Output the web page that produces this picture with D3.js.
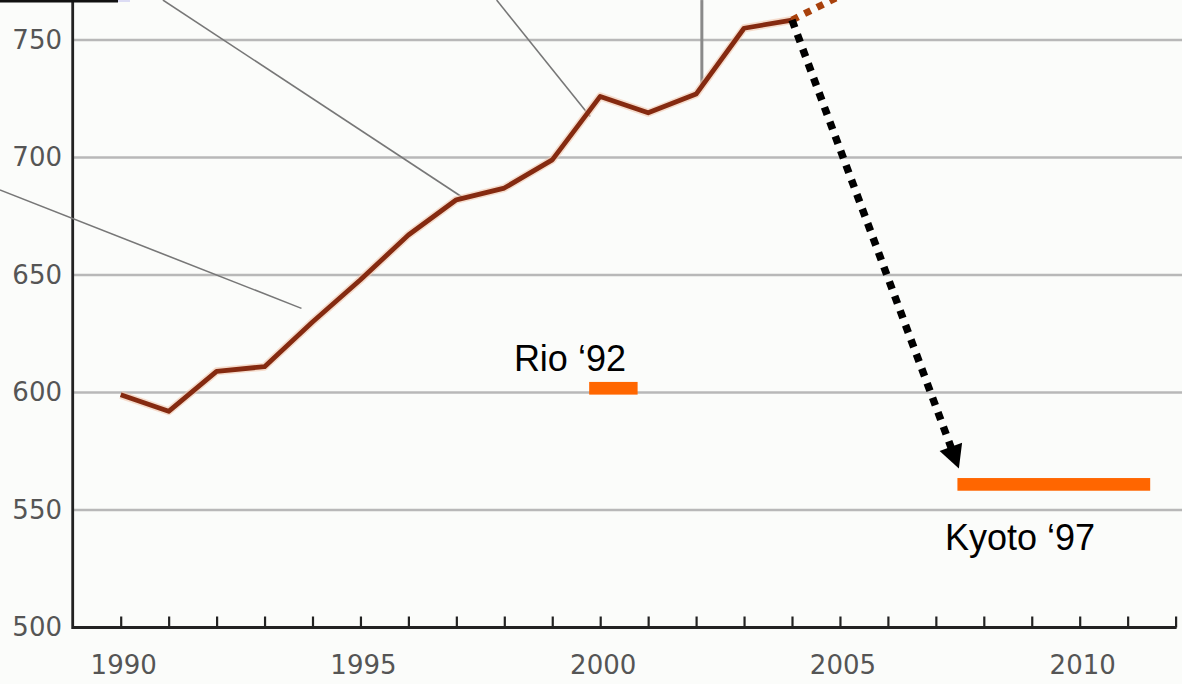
<!DOCTYPE html>
<html>
<head>
<meta charset="utf-8">
<script src="https://cdn.jsdelivr.net/npm/d3@7"></script>
<style>
  html, body { margin: 0; padding: 0; background: #fbfcfa; }
  svg { display: block; }
</style>
</head>
<body>
<div id="chart"></div>
<script>
// ---- data ----
const years = [1990,1991,1992,1993,1994,1995,1996,1997,1998,1999,2000,2001,2002,2003,2004];
const emissions = [599,592,609,611,630,648,667,682,687,699,726,719,727,755,758.5];
const yTicks = [500,550,600,650,700,750];
const xLabelYears = [1990,1995,2000,2005,2010];
const xTickYears = d3.range(1990, 2013);
const targetNames = ["Rio \u201892", "Kyoto \u201897"];
const targetStart = [1999.77, 2007.45];
const targetEnd = [2000.78, 2011.47];
const targetLow = [599.1, 558.2];
const targetHigh = [604.5, 563.6];
const targetLabelYear = [1998.2, 2007.19];
const targetLabelValue = [609.2, 532.8];
// trend projection (dotted) and required path (arrow)
const trendYears = [2004, 2006];
const trendValues = [758.5, 779];
const arrowYears = [2004, 2007.48];
const arrowValues = [758.5, 567.7];
// callout leader lines (pointing to labels outside the frame)
const calloutX1 = [1987.48, 1990.88, 1997.84, 2002.12];
const calloutY1 = [686.2, 767.0, 767.0, 767.0];
const calloutX2 = [1993.77, 1997.11, 1999.79, 2002.12];
const calloutY2 = [635.8, 683.3, 717.4, 730.9];

const W = 1182, H = 684;
const x = d3.scaleLinear().domain([1990, 2012]).range([120.7, 1175.6]);
const y = d3.scaleLinear().domain([500, 750]).range([627.5, 40]);
const axisX = 72.7;

const svg = d3.select("#chart").append("svg").attr("width", W).attr("height", H);
svg.append("rect").attr("width", W).attr("height", H).attr("fill", "#fbfcfa");

// gridlines
svg.append("g").selectAll("line").data(yTicks.filter(d => d > 500)).join("line")
  .attr("x1", axisX).attr("x2", W)
  .attr("y1", d => y(d)).attr("y2", d => y(d))
  .attr("stroke", "#b8b8b8").attr("stroke-width", 2.5);

// y axis labels
svg.append("g").selectAll("text").data(yTicks).join("text")
  .attr("x", 62).attr("y", d => y(d)).attr("dy", "0.33em")
  .attr("text-anchor", "end")
  .attr("font-family", "DejaVu Sans, sans-serif").attr("font-size", 26)
  .attr("fill", "#555")
  .text(d => d);

// x axis using d3 axis for ticks (upward)
const xAxis = d3.axisTop(x).tickValues(xTickYears).tickSize(11).tickFormat("");
const gx = svg.append("g").attr("transform", `translate(0,${y(500)})`).call(xAxis);
gx.select(".domain").remove();
gx.selectAll(".tick line").attr("stroke", "#222").attr("stroke-width", 2.2);

// axis lines
svg.append("line").attr("x1", axisX).attr("x2", x(2012) + 1)
  .attr("y1", y(500)).attr("y2", y(500)).attr("stroke", "#222").attr("stroke-width", 2.8);
svg.append("line").attr("x1", axisX).attr("x2", axisX)
  .attr("y1", 0).attr("y2", y(500) + 1.4).attr("stroke", "#222").attr("stroke-width", 2.8);

// x labels
svg.append("g").selectAll("text").data(xLabelYears).join("text")
  .attr("x", d => x(d) + 3).attr("y", y(500) + 46)
  .attr("text-anchor", "middle")
  .attr("font-family", "DejaVu Sans, sans-serif").attr("font-size", 26)
  .attr("fill", "#555")
  .text(d => d);

// callout lines
const callouts = calloutX1.map((d, i) => ({x1: d, y1: calloutY1[i], x2: calloutX2[i], y2: calloutY2[i]}));
svg.append("g").selectAll("line").data(callouts).join("line")
  .attr("x1", d => x(d.x1)).attr("y1", d => y(d.y1))
  .attr("x2", d => x(d.x2)).attr("y2", d => y(d.y2))
  .attr("stroke", (d, i) => i === 3 ? "#8a8a8a" : "#777")
  .attr("stroke-width", (d, i) => i === 3 ? 3 : 1.6);

// top-left box edge
svg.append("rect").attr("x", 0).attr("y", 0).attr("width", 118).attr("height", 2.5).attr("fill", "#111");
svg.append("rect").attr("x", 118).attr("y", 0).attr("width", 12).attr("height", 2).attr("fill", "#dcdcf4");

// emissions line
const pts = years.map((d, i) => [d, emissions[i]]);
const line = d3.line().x(d => x(d[0])).y(d => y(d[1]));
svg.append("path").datum(pts).attr("d", line)
  .attr("fill", "none").attr("stroke", "#f2c6ad").attr("stroke-width", 8)
  .attr("stroke-linejoin", "round").attr("opacity", 0.6);
svg.append("path").datum(pts).attr("d", line)
  .attr("fill", "none").attr("stroke", "#852a10").attr("stroke-width", 4.8)
  .attr("stroke-linejoin", "round");

// trend continuation (orange dotted)
const trendPts = trendYears.map((d, i) => [d, trendValues[i]]);
svg.append("path").datum(trendPts).attr("d", line)
  .attr("fill", "none").attr("stroke", "#a8410c").attr("stroke-width", 7)
  .attr("stroke-dasharray", "7,7");

// targets (orange bars)
targetNames.forEach((name, i) => {
  svg.append("rect")
    .attr("x", x(targetStart[i])).attr("width", x(targetEnd[i]) - x(targetStart[i]))
    .attr("y", y(targetHigh[i])).attr("height", y(targetLow[i]) - y(targetHigh[i]))
    .attr("fill", "#ff6600");
  svg.append("text")
    .attr("x", x(targetLabelYear[i])).attr("y", y(targetLabelValue[i]))
    .attr("font-family", "Liberation Sans, Arial, sans-serif").attr("font-size", 36)
    .attr("fill", "#000")
    .text(name);
});

// required reduction arrow (black dotted)
const ax1 = x(arrowYears[0]), ay1 = y(arrowValues[0]);
const ax2 = x(arrowYears[1]), ay2 = y(arrowValues[1]);
const len = Math.hypot(ax2 - ax1, ay2 - ay1);
const ux = (ax2 - ax1) / len, uy = (ay2 - ay1) / len;
const headLen = 23, headHalf = 12;
const bx = ax2 - ux * headLen, by = ay2 - uy * headLen;
svg.append("line")
  .attr("x1", ax1).attr("y1", ay1).attr("x2", bx + ux * 2).attr("y2", by + uy * 2)
  .attr("stroke", "#000").attr("stroke-width", 7.5)
  .attr("stroke-dasharray", "8,7.5");
svg.append("path")
  .attr("d", d3.line()([[ax2, ay2], [bx - uy * headHalf, by + ux * headHalf], [bx + uy * headHalf, by - ux * headHalf]]) + "Z")
  .attr("fill", "#000");
</script>
</body>
</html>
